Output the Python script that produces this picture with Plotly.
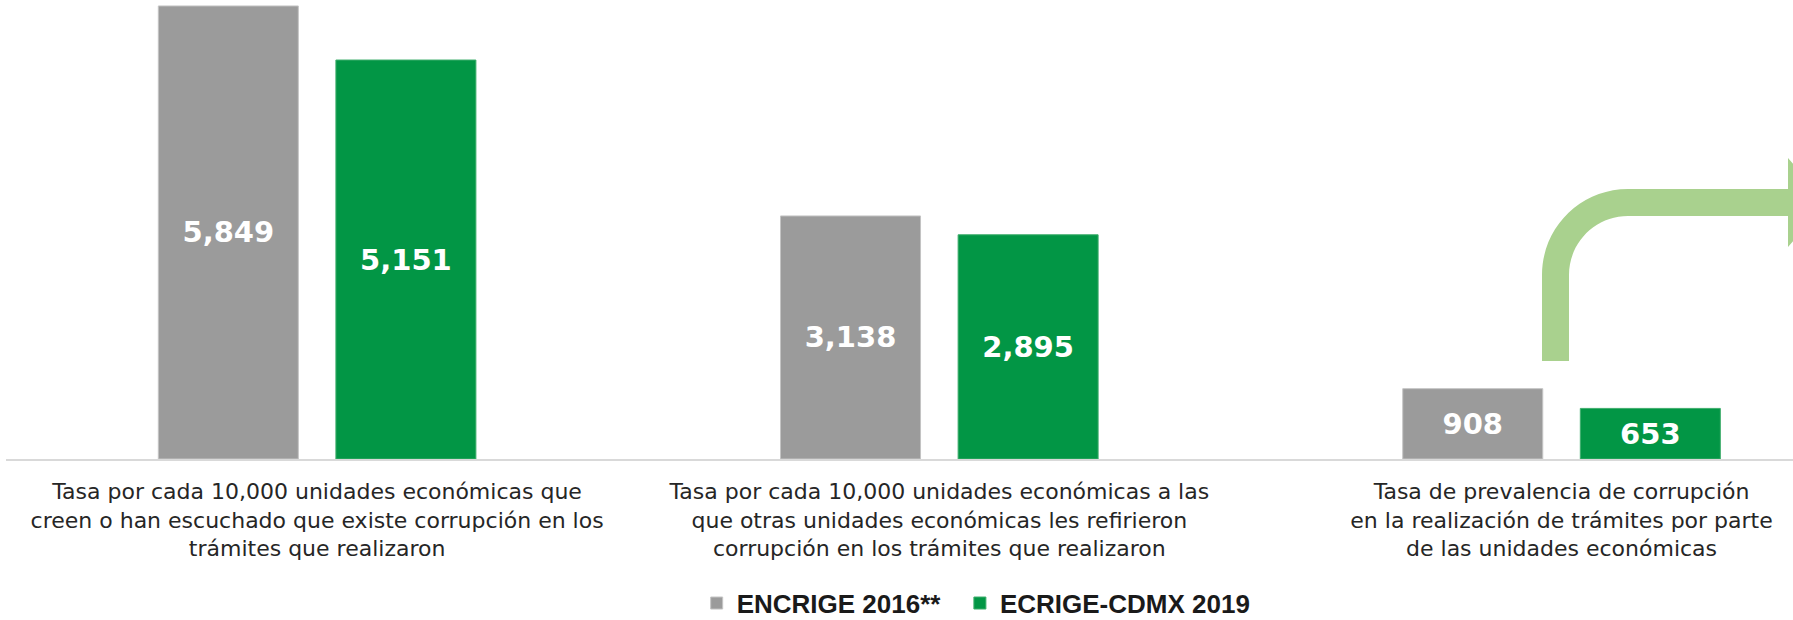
import plotly.graph_objects as go

# data
categories = [
    'Tasa por cada 10,000 unidades económicas que<br>creen o han escuchado que existe corrupción en los<br>trámites que realizaron',
    'Tasa por cada 10,000 unidades económicas a las<br>que otras unidades económicas les refirieron<br>corrupción en los trámites que realizaron',
    'Tasa de prevalencia de corrupción<br>en la realización de trámites por parte<br>de las unidades económicas',
]
encrige_2016 = [5849, 3138, 908]
ecrige_cdmx_2019 = [5151, 2895, 653]
series_names = ['ENCRIGE 2016**', 'ECRIGE-CDMX 2019']

# layout constants
W, H = 1793, 620
MARGIN_L, MARGIN_R, MARGIN_T, MARGIN_B = 6, 0, 0, 161
X_RANGE = [-0.5, 2.372]
Y_RANGE = [0, 5926]

gray = '#9b9b9b'
green = '#029645'
arrow_green = '#a9d18e'


def to_x(px):
    return X_RANGE[0] + (px - MARGIN_L) / (W - MARGIN_L - MARGIN_R) * (X_RANGE[1] - X_RANGE[0])


def to_y(py):
    return Y_RANGE[0] + (H - MARGIN_B - py) / (H - MARGIN_B - MARGIN_T) * (Y_RANGE[1] - Y_RANGE[0])


def arrow_path():
    # bent arrow drawn beside the last group (decoration, pixel geometry)
    k = 0.5523
    cx, cy, ro, ri = 1628, 275, 86, 59
    pts = [
        ('M', [(1542, 361)]),
        ('L', [(cx - ro, cy)]),
        ('C', [(cx - ro, cy - k * ro), (cx - k * ro, cy - ro), (cx, cy - ro)]),
        ('L', [(1788, cy - ro)]),
        ('L', [(1788, 158)]),
        ('L', [(1826, 202.5)]),
        ('L', [(1788, 247)]),
        ('L', [(1788, cy - ri)]),
        ('L', [(cx, cy - ri)]),
        ('C', [(cx - k * ri, cy - ri), (cx - ri, cy - k * ri), (cx - ri, cy)]),
        ('L', [(cx - ri, 361)]),
    ]
    s = ''
    for cmd, p in pts:
        s += cmd + ' '.join(f'{to_x(a):.5f},{to_y(b):.3f}' for a, b in p) + ' '
    return s + 'Z'


fig = go.Figure()
# trailing no-break spaces only widen the first legend entry a little
legend_pad = ['\u00a0\u00a0', '']
for i, (name, vals, col, edge) in enumerate([(series_names[0], encrige_2016, gray, '#c4c4c4'),
                                             (series_names[1], ecrige_cdmx_2019, green, '#3fae6c')]):
    fig.add_trace(go.Bar(x=categories, y=vals, name=name + legend_pad[i],
                         marker={'color': col, 'line': {'color': edge, 'width': 1}},
                         text=[f'{v:,}' for v in vals], textposition='inside',
                         insidetextanchor='middle', constraintext='none',
                         textfont={'family': 'DejaVu Sans', 'size': 29, 'color': 'white', 'weight': 'bold'}))

fig.add_shape(type='path', path=arrow_path(), xref='x', yref='y',
              fillcolor=arrow_green, line={'width': 0}, layer='above')

fig.update_layout(
    width=W, height=H,
    margin={'l': MARGIN_L, 'r': MARGIN_R, 't': MARGIN_T, 'b': MARGIN_B, 'pad': 0, 'autoexpand': False},
    plot_bgcolor='white', paper_bgcolor='white',
    barmode='group', bargap=0.4292, bargroupgap=0.2116,
    font={'family': 'DejaVu Sans', 'color': '#262626'},
    showlegend=True,
    legend={'orientation': 'h', 'x': 0.3865, 'xanchor': 'left', 'y': -0.314, 'yanchor': 'middle',
            'font': {'family': 'Liberation Sans', 'size': 26, 'color': '#1a1a1a', 'weight': 'bold'},
            'bgcolor': 'rgba(0,0,0,0)'},
    xaxis={'range': X_RANGE, 'showline': True, 'linecolor': '#d9d9d9', 'linewidth': 1.5,
           'ticks': '', 'tickangle': 0, 'tickfont': {'size': 22, 'color': '#262626'},
           'ticklabelstandoff': 12, 'automargin': False,
           'showgrid': False, 'zeroline': False, 'fixedrange': True},
    yaxis={'range': Y_RANGE, 'visible': False, 'showgrid': False, 'zeroline': False},
)

fig.write_html('out.html', config={'displayModeBar': False},
               post_script="document.body.style.margin='0';document.body.style.overflow='hidden';")
